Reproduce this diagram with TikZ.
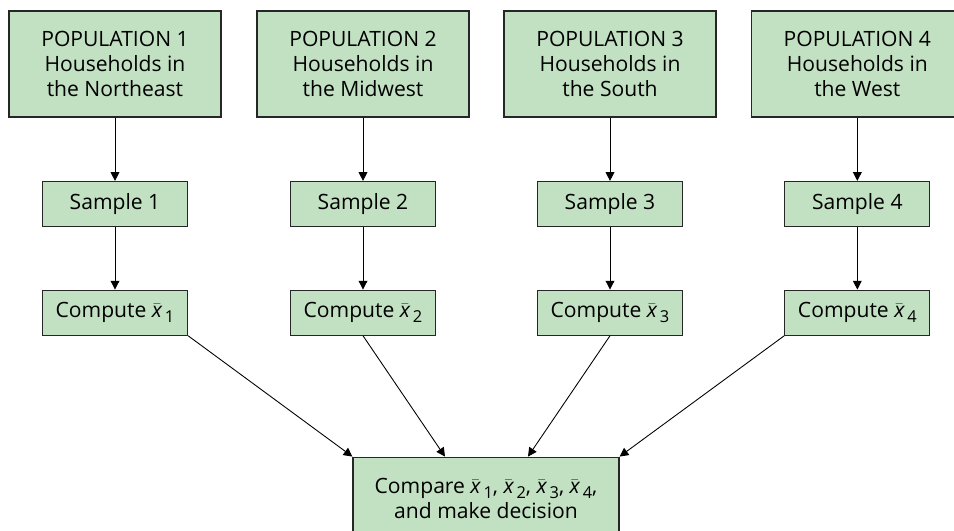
\documentclass[tikz,border=0pt]{standalone}
\usepackage{amsmath}
\usepackage{fontspec}
\setmainfont{Open Sans}
\usepackage{xcolor}
\usepackage{tikz}
\usetikzlibrary{arrows.meta,calc,positioning}
\definecolor{boxgreen}{HTML}{C2E0C2}
\newcommand{\xb}[1]{$\bar{\text{\itshape x}}$\kern2.5pt\raisebox{-0.45ex}{\fontsize{14}{14}\selectfont #1}}

\begin{document}
\begin{tikzpicture}[>={Triangle[length=7.5pt,width=7.5pt]},
    font=\fontsize{18}{21.5}\selectfont,
    popbox/.style={draw=black!85,line width=1pt,fill=boxgreen,
      minimum width=6.36cm,minimum height=3.18cm,align=center},
    smallbox/.style={draw=black!85,line width=1pt,fill=boxgreen,
      minimum width=4.35cm,minimum height=1.35cm,align=center},
    link/.style={->,line width=0.75pt}]
    \clip (0,0) rectangle (28.62,-15.93);

    \node[popbox] (p1) at (3.45,-1.92) {POPULATION 1\\Households in\\the Northeast};
    \node[popbox] (p2) at (10.89,-1.92) {POPULATION 2\\Households in\\the Midwest};
    \node[popbox] (p3) at (18.30,-1.92) {POPULATION 3\\Households in\\the South};
    \node[popbox] (p4) at (25.72,-1.92) {POPULATION 4\\Households in\\the West};

    \node[smallbox] (s1) at (3.45,-6.12) {Sample 1};
    \node[smallbox] (s2) at (10.89,-6.12) {Sample 2};
    \node[smallbox] (s3) at (18.30,-6.12) {Sample 3};
    \node[smallbox] (s4) at (25.72,-6.12) {Sample 4};

    \node[smallbox] (c1) at (3.45,-9.38) {Compute \xb{1}};
    \node[smallbox] (c2) at (10.89,-9.38) {Compute \xb{2}};
    \node[smallbox] (c3) at (18.30,-9.38) {Compute \xb{3}};
    \node[smallbox] (c4) at (25.72,-9.38) {Compute \xb{4}};

    \node[popbox,minimum width=7.98cm,minimum height=2.49cm] (cmp) at (14.58,-14.96)
      {Compare \xb{1}, \xb{2}, \xb{3}, \xb{4},\\and make decision};

    \draw[link] (p1) -- (s1);
    \draw[link] (p2) -- (s2);
    \draw[link] (p3) -- (s3);
    \draw[link] (p4) -- (s4);
    \draw[link] (s1) -- (c1);
    \draw[link] (s2) -- (c2);
    \draw[link] (s3) -- (c3);
    \draw[link] (s4) -- (c4);

    \draw[link] (c1.south east) -- (cmp.north west);
    \draw[link] (c2.south) -- ([xshift=-1.23cm]cmp.north);
    \draw[link] (c3.south) -- ([xshift=1.26cm]cmp.north);
    \draw[link] (c4.south west) -- (cmp.north east);
  \end{tikzpicture}
\end{document}
